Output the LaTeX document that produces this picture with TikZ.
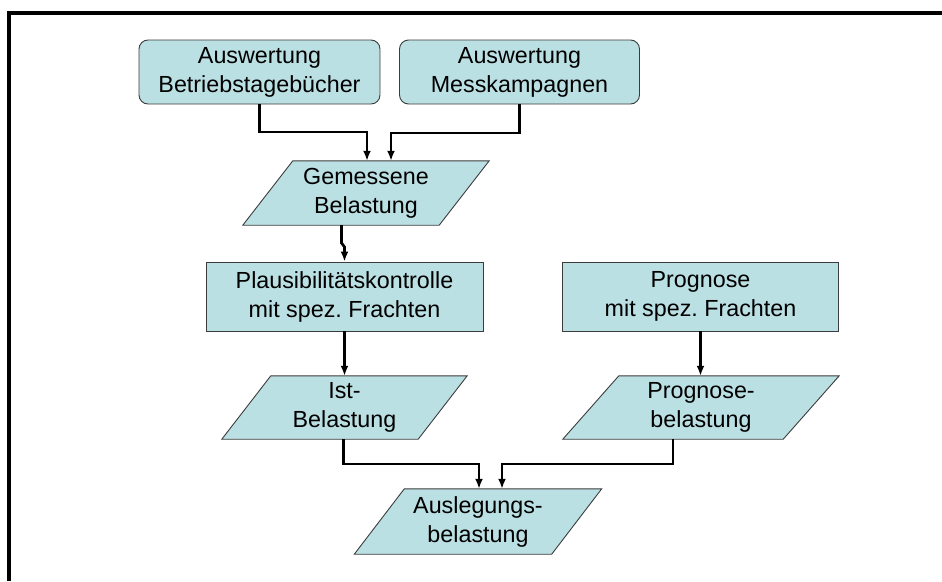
\documentclass[tikz,border=0pt]{standalone}
\usepackage{fontspec}
\setmainfont{Liberation Sans}
\frenchspacing
\usetikzlibrary{calc,backgrounds,arrows.meta}
\definecolor{boxfill}{RGB}{187,224,227}
\definecolor{boxline}{RGB}{60,60,60}
\tikzset{
 lbl/.style={align=center, font=\fontsize{23.3}{29}\selectfont, inner sep=0pt},
 rbox/.style={lbl, draw=boxline, fill=boxfill, line width=0.9pt, rounded corners=9pt},
 sbox/.style={lbl, draw=boxline, fill=boxfill, line width=0.9pt},
 pshape/.style={draw=boxline, fill=boxfill, line width=0.9pt},
 arr/.style={line width=2.7pt, -{Latex[length=10pt,width=8pt]}},
 frameline/.style={line width=3.2pt},
}
\begin{document}
\begin{tikzpicture}[x=1pt,y=-1pt]
\useasboundingbox (0,0) rectangle (942,581);
\draw[frameline] (9,581) -- (9,13) -- (942,13);
% nodes
\node[rbox, minimum width=241, minimum height=64] (b1) at (259.5,72) {Auswertung\\Betriebstagebücher};
\node[rbox, minimum width=240, minimum height=64] (b2) at (519.5,72) {Auswertung\\Messkampagnen};
\node[lbl, minimum width=196, minimum height=64] (gem) at (366,193) {Gemessene\\Belastung};
\node[sbox, minimum width=277, minimum height=69] (plaus) at (344.5,296.5) {Plausibilitätskontrolle\\mit spez. Frachten};
\node[sbox, minimum width=276, minimum height=69] (prog) at (700.5,296.5) {Prognose\\mit spez. Frachten};
\node[lbl, minimum width=196, minimum height=63] (ist) at (344.5,407.5) {Ist-\\Belastung};
\node[lbl, minimum width=220, minimum height=63] (pbel) at (701,407.5) {Prognose-\\belastung};
\node[lbl, minimum width=197, minimum height=65] (ausl) at (478,521.5) {Auslegungs-\\belastung};
% parallelograms
\begin{scope}[on background layer]
\foreach \n/\o in {gem/25, ist/24.5, pbel/28, ausl/25} {
 \draw[pshape] ($(\n.north west)+(\o,0)$) -- ($(\n.north east)+(\o,0)$) -- ($(\n.south east)+(-\o,0)$) -- ($(\n.south west)+(-\o,0)$) -- cycle;
}
\end{scope}
% connectors
\draw[arr] (b1.south) -- (b1.south |- 0,132) -| ($(gem.north)+(1,0)$);
\draw[arr] (b2.south) -- (b2.south |- 0,133) -| ($(gem.north)+(25,0)$);
\draw[arr] ($(gem.south)+(-24.5,0)$) -- (341.5,243) -- (344.5,247) -- (plaus.north);
\draw[arr] (plaus.south) -- (plaus.south |- ist.north);
\draw[arr] (prog.south) -- (prog.south |- pbel.north);
\draw[arr] ($(ist.south)+(-1,0)$) -- (343.5,464) -| ($(ausl.north)+(1,0)$);
\draw[arr] ($(pbel.south)+(-28,0)$) -- (673,464) -| ($(ausl.north)+(24,0)$);
\end{tikzpicture}
\end{document}
